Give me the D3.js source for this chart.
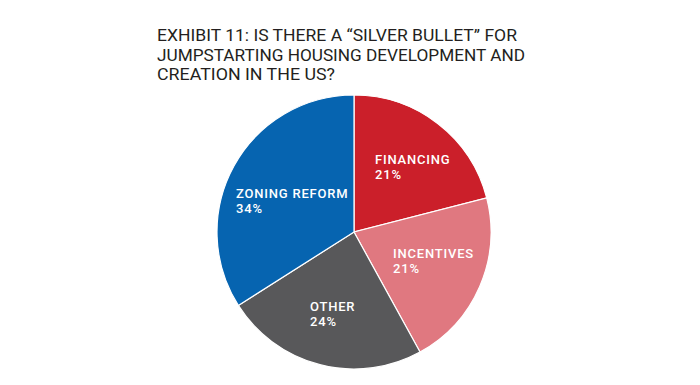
<!DOCTYPE html>
<html><head><meta charset="utf-8">
<script src="https://cdn.jsdelivr.net/npm/d3@7"></script>
<style>
html,body{margin:0;padding:0;background:#fff;}
svg{display:block;}
</style></head>
<body>
<svg id="chart" width="700" height="385"></svg>
<script>
const titleLines = ["EXHIBIT 11: IS THERE A \u201CSILVER BULLET\u201D FOR", "JUMPSTARTING HOUSING DEVELOPMENT AND", "CREATION IN THE US?"];
const titleWidths = [360, 368, 178];
const categories = ["FINANCING", "INCENTIVES", "OTHER", "ZONING REFORM"];
const values = [21, 21, 24, 34];
const colors = ["#cb1f2a", "#e07880", "#58585a", "#0664b0"];
const labelPos = [[375,164],[393,258],[310,311],[236,198]];

const svg = d3.select("#chart");
const title = svg.append("g");
titleLines.forEach((t,i)=>{
  title.append("text").attr("x",157).attr("y",41+i*19.5)
    .attr("font-family","Roboto, 'DejaVu Sans', sans-serif").attr("font-size",17)
    .attr("font-weight",400)
    .attr("fill","#231f20")
    .attr("textLength",titleWidths[i]).attr("lengthAdjust","spacingAndGlyphs")
    .text(t);
});

const cx=354, cy=232, r=137;
const pie = d3.pie().sort(null).value(d=>d)(values);
const arc = d3.arc().innerRadius(0).outerRadius(r);
const g = svg.append("g").attr("transform",`translate(${cx},${cy})`);
g.selectAll("path").data(pie).join("path")
  .attr("d",arc).attr("fill",(d,i)=>colors[i])
  .attr("stroke","#fff").attr("stroke-width",1.2);

const labels = svg.append("g").attr("font-family","Roboto, 'DejaVu Sans', sans-serif")
  .attr("font-size",13).attr("font-weight",500).attr("fill","#fff").attr("letter-spacing",0.8);
categories.forEach((c,i)=>{
  const t = labels.append("text").attr("x",labelPos[i][0]).attr("y",labelPos[i][1]);
  t.append("tspan").attr("x",labelPos[i][0]).text(c);
  t.append("tspan").attr("x",labelPos[i][0]).attr("dy",14.5).text(values[i]+"%");
});
</script>
</body></html>
